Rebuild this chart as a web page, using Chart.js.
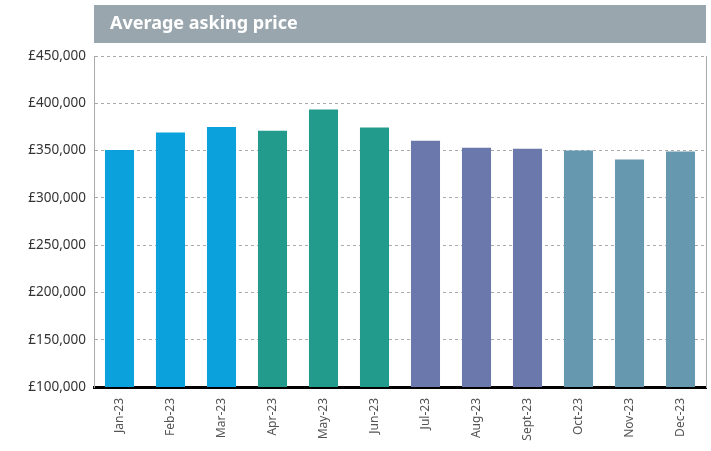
<!DOCTYPE html>
<html>
<head>
<meta charset="utf-8">
<script src="https://cdn.jsdelivr.net/npm/chart.js@4"></script>
<style>
  html, body { margin: 0; padding: 0; background: #fff; }
  #wrap { width: 711px; height: 451px; }
</style>
</head>
<body>
<div id="wrap"><canvas id="priceChart" width="711" height="451"></canvas></div>
<script>
/* ── Data ── */
const months = ['Jan-23', 'Feb-23', 'Mar-23', 'Apr-23', 'May-23', 'Jun-23',
                'Jul-23', 'Aug-23', 'Sept-23', 'Oct-23', 'Nov-23', 'Dec-23'];
const askingPrice = [350500, 369000, 375000, 371000, 393500, 374500,
                     360500, 353000, 352000, 350000, 340500, 349000];
const yMin = 100000;
const yMax = 450000;
const yStep = 50000;
const chartTitle = 'Average asking price';

/* quarter colours, one per bar */
const barColors = [
  '#0ba1dc', '#0ba1dc', '#0ba1dc',
  '#229b8d', '#229b8d', '#229b8d',
  '#6b78ab', '#6b78ab', '#6b78ab',
  '#6699b0', '#6699b0', '#6699b0',
];

Chart.defaults.font.family = '"Noto Sans", "Open Sans", sans-serif';
Chart.defaults.animation = false;

/* ── Grey title banner over the plot width ── */
const titleBar = {
  id: 'titleBar',
  beforeDraw(chart) {
    const { ctx, chartArea } = chart;
    ctx.save();
    ctx.fillStyle = '#9aa6ad';
    ctx.fillRect(chartArea.left, 5, chartArea.right - chartArea.left, 38);
    ctx.fillStyle = '#fff';
    ctx.font = 'bold 18px "Noto Sans", "Open Sans", sans-serif';
    ctx.textBaseline = 'middle';
    ctx.fillText(chartTitle, chartArea.left + 16, 24);
    ctx.restore();
  },
};

new Chart(document.getElementById('priceChart'), {
  type: 'bar',
  data: {
    labels: months,
    datasets: [{
      label: chartTitle,
      data: askingPrice,
      backgroundColor: barColors,
      borderWidth: 0,
      categoryPercentage: 1,
      barPercentage: 0.57,
    }],
  },
  options: {
    responsive: false,
    layout: { padding: { top: 56, right: 5, left: 0, bottom: 0 } },
    plugins: { legend: { display: false }, tooltip: { enabled: false } },
    scales: {
      x: {
        grid: { display: false },
        border: { color: '#000', width: 3 },
        ticks: {
          color: '#555', font: { size: 12 },
          minRotation: 90, maxRotation: 90, padding: 3,
        },
        afterFit: s => { s.height = 64; },
      },
      y: {
        min: yMin, max: yMax,
        grid: { color: '#aaa', lineWidth: 1, drawTicks: false },
        border: { color: '#aaa', dash: [3, 3] },
        ticks: {
          stepSize: yStep, color: '#333', font: { size: 13.5 }, padding: 8,
          callback: v => '£' + v.toLocaleString('en-GB'),
        },
        afterFit: s => { s.width = 94; },
      },
      yRight: {
        position: 'right',
        min: yMin, max: yMax,
        grid: { display: false },
        border: { color: '#aaa', dash: [3, 3] },
        ticks: { display: false },
        afterFit: s => { s.width = 0; },
      },
    },
  },
  plugins: [titleBar],
});
</script>
</body>
</html>
